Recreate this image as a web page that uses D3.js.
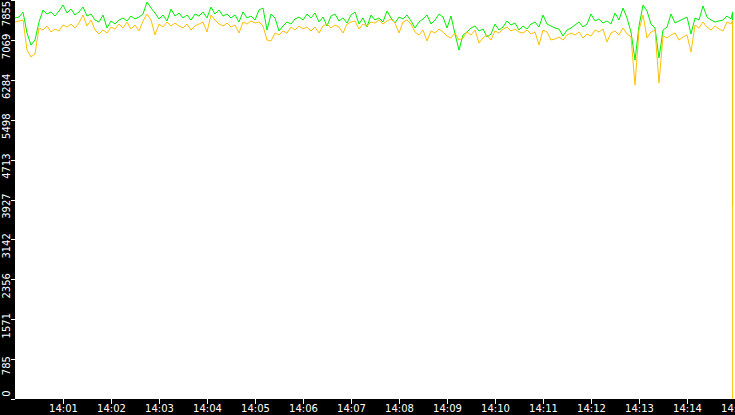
<!DOCTYPE html>
<html>
<head>
<meta charset="utf-8">
<script src="https://cdn.jsdelivr.net/npm/d3@7"></script>
<style>
  body { margin: 0; background: #fff; }
  svg { display: block; }
  text { font-family: "DejaVu Sans", Verdana, sans-serif; }
</style>
</head>
<body>
<svg id="chart" width="735" height="415"></svg>
<script>
// samples every 5 seconds starting 14:00:00, plus the last readings at 14:14:57 (before and after the drop)
const startTime = new Date(2020, 0, 1, 14, 0, 0);
const stepSeconds = 5;
const tailSeconds = [897, 897];

const greenValues = [
  7501, 7520, 7619, 7205, 6969, 7067, 7422, 7658, 7579, 7619,
  7540, 7638, 7757, 7599, 7678, 7560, 7619, 7717, 7540, 7579,
  7461, 7422, 7560, 7304, 7442, 7382, 7461, 7501, 7442, 7540,
  7481, 7520, 7579, 7816, 7697, 7599, 7481, 7560, 7442, 7678,
  7540, 7599, 7501, 7560, 7461, 7579, 7540, 7619, 7501, 7717,
  7579, 7658, 7540, 7579, 7501, 7560, 7422, 7619, 7501, 7540,
  7461, 7658, 7697, 7264, 7579, 7501, 7245, 7343, 7422, 7382,
  7481, 7520, 7461, 7579, 7501, 7599, 7422, 7520, 7343, 7540,
  7579, 7442, 7501, 7402, 7560, 7619, 7382, 7501, 7323, 7560,
  7461, 7501, 7422, 7638, 7501, 7402, 7520, 7481, 7560, 7442,
  7304, 7422, 7481, 7560, 7382, 7461, 7579, 7520, 7304, 7540,
  7186, 6870, 7166, 7225, 7304, 7343, 7245, 7284, 7127, 7186,
  7382, 7264, 7323, 7442, 7363, 7402, 7264, 7343, 7284, 7382,
  7422, 7323, 7560, 7382, 7343, 7304, 7284, 7146, 7264, 7304,
  7363, 7422, 7323, 7382, 7579, 7442, 7481, 7402, 7442, 7382,
  7599, 7461, 7697, 7501, 7225, 6674, 7343, 7757, 7638, 7382,
  7304, 6713, 7264, 7323, 7579, 7402, 7442, 7481, 7520, 7186,
  7501, 7461, 7737, 7520, 7461, 7422, 7442, 7461, 7540, 7481
];
const yellowValues = [
  7422, 7442, 7461, 6870, 6733, 6792, 7304, 7264, 7343, 7225,
  7284, 7245, 7363, 7323, 7382, 7304, 7402, 7560, 7343, 7461,
  7264, 7186, 7264, 7205, 7323, 7284, 7382, 7304, 7422, 7284,
  7363, 7245, 7442, 7579, 7461, 7166, 7382, 7323, 7422, 7343,
  7402, 7343, 7304, 7382, 7264, 7343, 7382, 7422, 7225, 7560,
  7461, 7382, 7343, 7402, 7323, 7363, 7205, 7422, 7382, 7442,
  7402, 7422, 7343, 7067, 7048, 7205, 7166, 7245, 7205, 7323,
  7264, 7343, 7284, 7323, 7245, 7323, 7205, 7343, 7382, 7304,
  7363, 7323, 7205, 7382, 7422, 7442, 7284, 7382, 7343, 7422,
  7402, 7461, 7382, 7442, 7481, 7402, 7205, 7422, 7461, 7382,
  7225, 7166, 7264, 7048, 7245, 7205, 7284, 7225, 7146, 7107,
  7205, 7067, 7107, 7225, 7166, 7264, 7008, 7107, 7166, 7067,
  7245, 7205, 7284, 7323, 7245, 7284, 7225, 7205, 7264, 7186,
  7225, 6969, 7264, 7225, 7067, 7087, 7127, 7067, 7166, 7205,
  7166, 7225, 7107, 7186, 7146, 7264, 7225, 7284, 7028, 7205,
  7245, 7166, 7304, 7186, 7127, 6181, 7264, 7560, 7107, 7225,
  7264, 6221, 7146, 7107, 7166, 7205, 7067, 7127, 7166, 6831,
  7363, 7304, 7422, 7323, 7264, 7343, 7284, 7245, 7422, 7382
];
const greenTail = [7620, 3800];
const yellowTail = [7460, 0];

const yTickValues = [0, 785, 1571, 2356, 3142, 3927, 4713, 5498, 6284, 7069, 7855];
const xTickMinutes = [1, 2, 3, 4, 5, 6, 7, 8, 9, 10, 11, 12, 13, 14, 15];

// layout
const svg = d3.select('#chart');
const width = 735;
const height = 415;
const margin = { top: 0, bottom: 16, right: 0, left: 15 };
const plotBottom = height - margin.bottom;

const timeAt = s => new Date(startTime.getTime() + s * 1000);

function buildSeries(values, tail) {
    let pts = values.map((v, i) => ({ t: timeAt(i * stepSeconds), v: v }));
    tail.forEach((v, i) => pts.push({ t: timeAt(tailSeconds[i]), v: v }));
    return pts;
}
const greenData = buildSeries(greenValues, greenTail);
const yellowData = buildSeries(yellowValues, yellowTail);

let xScale = d3.scaleTime()
    .domain([startTime, timeAt(900)])
    .range([margin.left, width]);
let yScale = d3.scaleLinear()
    .domain([0, 7855])
    .range([plotBottom, 0]);

// black strips for the axes
svg.append('rect')
    .attr('x', 0).attr('y', 0)
    .attr('width', margin.left).attr('height', height)
    .style('fill', '#000');
svg.append('rect')
    .attr('x', 0).attr('y', plotBottom)
    .attr('width', width).attr('height', margin.bottom)
    .style('fill', '#000');

// series (yellow drawn over green)
let line = d3.line()
    .x(d => xScale(d.t))
    .y(d => yScale(d.v));
svg.append('path')
    .datum(greenData)
    .attr('d', line)
    .style('fill', 'none')
    .style('stroke', '#00f000')
    .style('stroke-width', 1);
svg.append('path')
    .datum(yellowData)
    .attr('d', line)
    .style('fill', 'none')
    .style('stroke', '#ffc000')
    .style('stroke-width', 1);

// y axis, labels turned upright and kept inside the strip
let yAxisG = svg.append('g')
    .attr('transform', `translate(${margin.left},0)`)
    .call(d3.axisLeft(yScale).tickValues(yTickValues).tickSize(4).tickFormat(d3.format('d')));
yAxisG.select('.domain').remove();
yAxisG.selectAll('line').style('stroke', '#fff').style('shape-rendering', 'crispEdges');
yAxisG.selectAll('text')
    .attr('x', 0).attr('dy', null).attr('y', 0)
    .style('fill', '#fff')
    .style('font-size', '10px')
    .attr('text-anchor', 'middle')
    .attr('transform', d => {
        let cy = Math.max(13, Math.min(yScale(d) + 6, 393));
        return `translate(-5,${cy - yScale(d)}) rotate(-90)`;
    });

// x axis
let xAxisG = svg.append('g')
    .attr('transform', `translate(0,${plotBottom})`)
    .call(d3.axisBottom(xScale)
        .tickValues(xTickMinutes.map(m => timeAt(m * 60)))
        .tickSize(5)
        .tickFormat(d3.timeFormat('%H:%M')));
xAxisG.select('.domain').remove();
xAxisG.selectAll('line').style('stroke', '#fff').style('shape-rendering', 'crispEdges');
xAxisG.selectAll('text')
    .attr('y', 6)
    .attr('dy', '0.71em')
    .style('fill', '#fff')
    .style('font-size', '10px');
</script>
</body>
</html>
